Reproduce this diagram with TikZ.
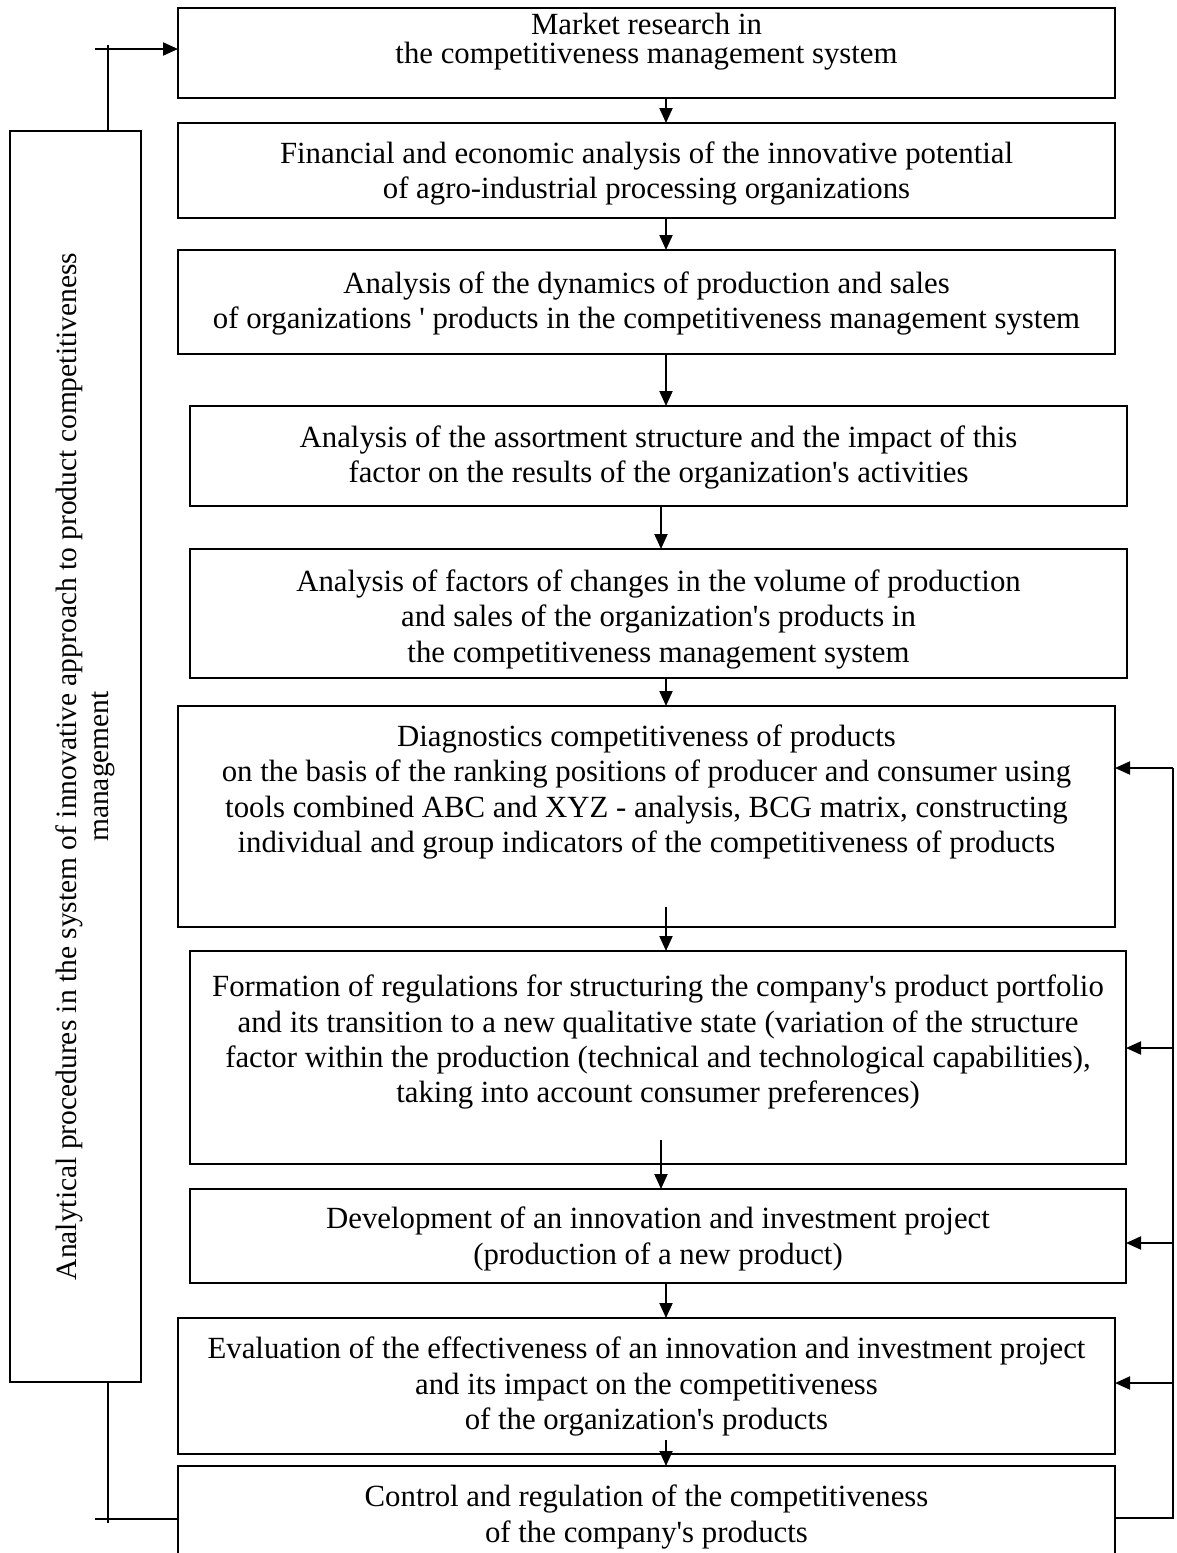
\documentclass[tikz,border=0pt]{standalone}
\usepackage{fontspec}
\setmainfont{Liberation Serif}
\usetikzlibrary{arrows.meta, positioning}

\begin{document}
\begin{tikzpicture}[x=1pt, y=-1pt, line width=2pt,
  box/.style={draw, rectangle, anchor=north west, inner sep=0pt, outer sep=0pt},
  txt/.style={align=center, inner sep=0pt, font=\fontsize{30.8}{35.3}\selectfont},
  arr/.style={-{Triangle[length=15pt, width=13pt]}}]
  \useasboundingbox (0,0) rectangle (1176,1553);
  % boxes
  \node[box, minimum width=937pt, minimum height=90pt] (b1) at (178,8) {};
  \node[box, minimum width=937pt, minimum height=95pt] (b2) at (178,123) {};
  \node[box, minimum width=937pt, minimum height=104pt] (b3) at (178,250) {};
  \node[box, minimum width=937pt, minimum height=100pt] (b4) at (190,406) {};
  \node[box, minimum width=937pt, minimum height=129pt] (b5) at (190,549) {};
  \node[box, minimum width=937pt, minimum height=221pt] (b6) at (178,706) {};
  \node[box, minimum width=936pt, minimum height=213pt] (b7) at (190,951) {};
  \node[box, minimum width=936pt, minimum height=94pt] (b8) at (190,1189) {};
  \node[box, minimum width=937pt, minimum height=136pt] (b9) at (178,1318) {};
  \node[box, minimum width=937pt, minimum height=104pt] (b10) at (178,1466) {};
  \node[box, minimum width=131pt, minimum height=1251pt] (b0) at (10,131) {};
  % texts
  \node[txt, font=\fontsize{30.8}{29.5}\selectfont, below=4pt of b1.north] (t1) {Market research in\\the competitiveness management system};
  \node[txt, below=18pt of b2.north] (t2) {Financial and economic analysis of the innovative potential\\of agro-industrial processing organizations};
  \node[txt, below=21pt of b3.north] (t3) {Analysis of the dynamics of production and sales\\of organizations \textquotesingle{} products in the competitiveness management system};
  \node[txt, below=19pt of b4.north] (t4) {Analysis of the assortment structure and the impact of this\\factor on the results of the organization\textquotesingle s activities};
  \node[txt, below=20pt of b5.north] (t5) {Analysis of factors of changes in the volume of production\\and sales of the organization\textquotesingle s products in\\the competitiveness management system};
  \node[txt, below=18pt of b6.north] (t6) {Diagnostics competitiveness of products\\on the basis of the ranking positions of producer and consumer using\\tools combined ABC and XYZ - analysis, BCG matrix, constructing\\individual and group indicators of the competitiveness of products};
  \node[txt, below=23pt of b7.north] (t7) {Formation of regulations for structuring the company\textquotesingle s product portfolio\\and its transition to a new qualitative state (variation of the structure\\factor within the production (technical and technological capabilities),\\taking into account consumer preferences)};
  \node[txt, below=17pt of b8.north] (t8) {Development of an innovation and investment project\\(production of a new product)};
  \node[txt, below=18pt of b9.north] (t9) {Evaluation of the effectiveness of an innovation and investment project\\and its impact on the competitiveness\\of the organization\textquotesingle s products};
  \node[txt, below=18pt of b10.north] (t10) {Control and regulation of the competitiveness\\of the company\textquotesingle s products};
  \node[txt, font=\fontsize{29.5}{32}\selectfont, rotate=90] (t0) at ([shift={(10,10)}]b0.center) {Analytical procedures in the system of innovative approach to product competitiveness\\management};
  % main chain
  \coordinate (ax) at (666,0);
  \coordinate (ay) at (661,0);
  \draw[arr] (b1.south -| ax) -- (b2.north -| ax);
  \draw[arr] (b2.south -| ax) -- (b3.north -| ax);
  \draw[arr] (b3.south -| ax) -- (b4.north -| ax);
  \draw[arr] (b4.south -| ay) -- (b5.north -| ay);
  \draw[arr] (b5.south -| ax) -- (b6.north -| ax);
  \draw[arr] (b6.south -| ax) ++(0,-20) -- (b7.north -| ax);
  \draw[arr] (b7.south -| ay) ++(0,-24) -- (b8.north -| ay);
  \draw[arr] (b8.south -| ax) -- (b9.north -| ax);
  \draw[arr] (b9.south -| ax) ++(0,-14) -- (b10.north -| ax);
  % left loop
  \coordinate (lx) at (108,0);
  \coordinate (tl) at (95,49);
  \coordinate (bl) at (95,1519);
  \draw[arr] (tl) -- (tl -| b1.west);
  \draw (b0.north -| lx) -- ++(0,-86);
  \draw (bl) -- (bl -| b10.west);
  \draw (b0.south -| lx) -- ++(0,141);
  % right feedback
  \coordinate (rx) at (1173,0);
  \coordinate (e6) at ([yshift=48.5pt]b6.east);
  \coordinate (e7) at ([yshift=9.5pt]b7.east);
  \coordinate (e8) at ([yshift=-7pt]b8.east);
  \coordinate (e9) at ([yshift=3pt]b9.east);
  \draw (b10.east) -- (b10.east -| rx) -- (e6 -| rx);
  \draw[arr] (e6 -| rx) -- (e6);
  \draw[arr] (e7 -| rx) -- (e7);
  \draw[arr] (e8 -| rx) -- (e8);
  \draw[arr] (e9 -| rx) -- (e9);
\end{tikzpicture}
\end{document}
